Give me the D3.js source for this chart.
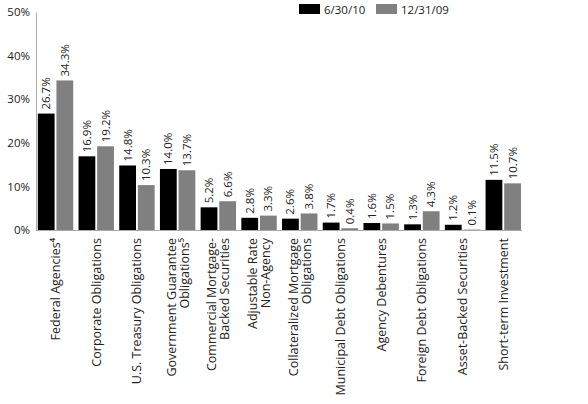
<!DOCTYPE html>
<html><head><meta charset="utf-8">
<script src="https://cdn.jsdelivr.net/npm/d3@7"></script>
<style>body{margin:0;background:#fff}text{font-family:"Open Sans",sans-serif;}</style>
</head><body>
<svg id="chart" width="588" height="404"></svg>
<script>
var categories = [
  ["Federal Agencies\u2074"], ["Corporate Obligations"], ["U.S. Treasury Obligations"],
  ["Government Guarantee", "Obligations\u2075"], ["Commercial Mortgage-", "Backed Securities"],
  ["Adjustable Rate", "Non-Agency"], ["Collateralized Mortgage", "Obligations"],
  ["Municipal Debt Obligations"], ["Agency Debentures"], ["Foreign Debt Obligations"],
  ["Asset-Backed Securities"], ["Short-term Investment"]
];
var jun10 = [26.7, 16.9, 14.8, 14.0, 5.2, 2.8, 2.6, 1.7, 1.6, 1.3, 1.2, 11.5];
var dec09 = [34.3, 19.2, 10.3, 13.7, 6.6, 3.3, 3.8, 0.4, 1.5, 4.3, 0.1, 10.7];
var series = [{name: "6/30/10", values: jun10, color: "#000"}, {name: "12/31/09", values: dec09, color: "#808080"}];
var yTicks = [0, 10, 20, 30, 40, 50];

var svg = d3.select("#chart");
var y = d3.scaleLinear().domain([0, 50]).range([230, 12]);
var x = d3.scaleBand().domain(d3.range(categories.length)).range([37, 37 + 40.4 * 12]).paddingInner(0.13).paddingOuter(0.02);
var xs = d3.scaleBand().domain([0, 1]).range([0, x.bandwidth()]).paddingInner(0.1);

var yAxis = svg.append("g").attr("transform", "translate(36,0)")
  .call(d3.axisLeft(y).tickValues(yTicks).tickFormat(function(d){ return d + "%"; }).tickSize(0).tickPadding(6));
yAxis.select(".domain").attr("stroke", "#aaa");
yAxis.selectAll("text").attr("font-size", 11.5).attr("fill", "#222");

svg.append("line").attr("x1", 36).attr("x2", 522).attr("y1", 230.5).attr("y2", 230.5).attr("stroke", "#aaa");

series.forEach(function(s, si) {
  var g = svg.append("g");
  g.selectAll("rect").data(s.values).enter().append("rect")
    .attr("x", function(d, i){ return x(i) + xs(si); })
    .attr("width", xs.bandwidth())
    .attr("y", function(d){ return y(d); })
    .attr("height", function(d){ return 230 - y(d); })
    .attr("fill", s.color);
  g.selectAll("text").data(s.values).enter().append("text")
    .attr("transform", function(d, i){
      return "translate(" + (x(i) + xs(si) + xs.bandwidth() / 2 + 4) + "," + (y(d) - 4) + ") rotate(-90)";
    })
    .attr("font-size", 11.5).attr("fill", "#222")
    .text(function(d){ return d.toFixed(1) + "%"; });
});

var lab = svg.append("g").selectAll("text").data(categories).enter().append("text")
  .attr("transform", function(d, i){
    var cx = x(i) + x.bandwidth() / 2 + 4.5 - (d.length - 1) * 6.5;
    return "translate(" + cx + ",238) rotate(-90)";
  })
  .attr("text-anchor", "end").attr("font-size", 12.5).attr("fill", "#222");
lab.selectAll("tspan").data(function(d){ return d; }).enter().append("tspan")
  .attr("x", 0).attr("dy", function(d, j){ return j ? 13 : 0; })
  .text(function(d){ return d; });

var leg = svg.append("g").selectAll("g").data(series).enter().append("g")
  .attr("transform", function(d, i){ return "translate(" + (299 + i * 77) + ",4)"; });
leg.append("rect").attr("width", 21).attr("height", 10).attr("fill", function(d){ return d.color; });
leg.append("text").attr("x", 25).attr("y", 10).attr("font-size", 11.5).attr("fill", "#222").text(function(d){ return d.name; });
</script>
</body></html>
